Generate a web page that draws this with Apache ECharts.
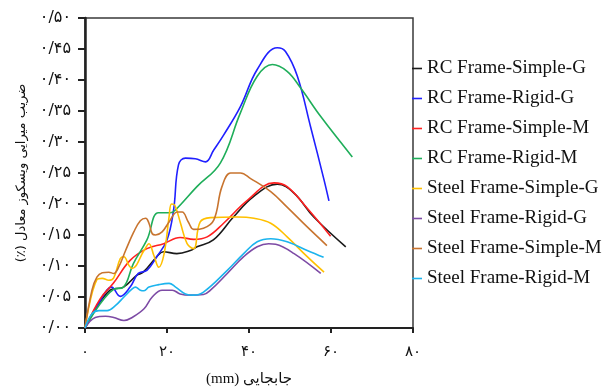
<!DOCTYPE html>
<html><head><meta charset="utf-8">
<script src="https://cdn.jsdelivr.net/npm/echarts@6/dist/echarts.min.js"></script>
<style>html,body{margin:0;padding:0;background:#fff}#c{width:612px;height:387px}</style>
</head><body><div id="c"></div>
<script>
const seriesNames = ['RC Frame-Simple-G','RC Frame-Rigid-G','RC Frame-Simple-M','RC Frame-Rigid-M','Steel Frame-Simple-G','Steel Frame-Rigid-G','Steel Frame-Simple-M','Steel Frame-Rigid-M'];
const seriesColors = ['#1a1a1a','#2020ff','#ff2020','#1fae5a','#ffc000','#7d4ba5','#c8742f','#1cb4ee'];
const xTickLabels = ['۰','۲۰','۴۰','۶۰','۸۰'];
const yTickLabels = ['۰/۰۰','۰/۰۵','۰/۱۰','۰/۱۵','۰/۲۰','۰/۲۵','۰/۳۰','۰/۳۵','۰/۴۰','۰/۴۵','۰/۵۰'];
const xAxisName = 'جابجایی (mm)';
const yAxisName = 'ضریب میرایی ویسکوز معادل (٪)';

const rcSimpleG = [[0,0],[6.1,0.061],[9.4,0.066],[12.6,0.085],[14.2,0.090],[17.5,0.115],[19.1,0.123],[22.4,0.120],[25.7,0.125],[27.3,0.131],[31.3,0.142],[36.2,0.179],[41.1,0.212],[46.9,0.232],[50.9,0.218],[55.8,0.179],[63.6,0.131]];
const rcRigidG = [[0,0],[3.7,0.044],[6.5,0.066],[8.6,0.051],[11.0,0.066],[13.0,0.088],[15.1,0.093],[17.5,0.115],[20.0,0.142],[21.6,0.190],[22.8,0.263],[24.5,0.274],[26.9,0.273],[29.4,0.268],[31.4,0.287],[33.8,0.311],[37.9,0.357],[42.0,0.417],[46.9,0.452],[48.9,0.446],[51.8,0.406],[55.0,0.325],[58.3,0.239],[59.5,0.205]];
const rcSimpleM = [[0,0],[3.7,0.047],[6.9,0.072],[11.0,0.109],[15.1,0.128],[19.2,0.136],[23.2,0.146],[26.5,0.143],[29.8,0.147],[33.8,0.169],[39.6,0.206],[46.1,0.234],[49.3,0.228],[54.2,0.193],[59.9,0.148]];
const rcRigidM = [[0,0],[3.7,0.039],[6.9,0.062],[9.4,0.066],[11.8,0.104],[15.1,0.142],[17.9,0.186],[20.8,0.186],[22.0,0.190],[27.3,0.228],[33.0,0.266],[37.9,0.347],[42.0,0.406],[45.7,0.425],[49.3,0.414],[52.6,0.387],[57.5,0.341],[65.2,0.276]];
const steelSimpleG = [[0,0],[2.9,0.078],[4.2,0.080],[5.8,0.077],[7.0,0.081],[8.6,0.112],[9.5,0.115],[10.7,0.101],[11.5,0.096],[14.4,0.125],[15.6,0.136],[16.8,0.117],[18.0,0.098],[19.3,0.120],[20.5,0.179],[21.1,0.200],[21.9,0.198],[23.3,0.169],[24.9,0.136],[26.5,0.128],[28.1,0.171],[30.6,0.178],[37.1,0.179],[41.2,0.177],[45.3,0.169],[49.3,0.147],[54.2,0.115],[58.3,0.090]];
const steelRigidG = [[0,0],[2.5,0.017],[5.0,0.019],[7.0,0.017],[9.5,0.012],[11.5,0.017],[14.4,0.031],[16.4,0.050],[18.8,0.061],[21.3,0.061],[23.2,0.055],[25.7,0.053],[28.9,0.054],[30.6,0.061],[34.7,0.088],[38.7,0.115],[42.0,0.131],[44.8,0.136],[46.5,0.135],[51.0,0.120],[57.5,0.088]];
const steelSimpleM = [[0,0],[1.7,0.061],[2.9,0.082],[4.2,0.089],[5.8,0.090],[7.0,0.088],[8.2,0.098],[9.9,0.125],[11.9,0.155],[13.5,0.173],[14.8,0.177],[15.6,0.169],[16.4,0.152],[17.2,0.150],[18.8,0.155],[20.5,0.171],[22.5,0.187],[23.7,0.187],[25.2,0.171],[26.5,0.159],[28.9,0.161],[31.4,0.174],[33.4,0.228],[35.5,0.250],[37.9,0.250],[40.4,0.241],[45.3,0.220],[49.3,0.195],[54.2,0.163],[59.0,0.133]];
const steelRigidM = [[0,0],[1.7,0.023],[3.4,0.028],[5.4,0.028],[7.4,0.036],[9.5,0.050],[11.5,0.063],[12.3,0.066],[13.5,0.061],[14.4,0.060],[15.6,0.066],[18.0,0.070],[20.5,0.072],[22.1,0.066],[24.5,0.055],[26.4,0.053],[28.9,0.058],[34.7,0.093],[38.7,0.120],[42.0,0.139],[45.3,0.144],[49.3,0.139],[54.2,0.125],[58.2,0.114]];

const seriesData = [rcSimpleG, rcRigidG, rcSimpleM, rcRigidM, steelSimpleG, steelRigidG, steelSimpleM, steelRigidM];

const rtl = s => '\u202B' + s + '\u202C';

const chart = echarts.init(document.getElementById('c'), null, {renderer:'canvas'});
chart.setOption({
  animation: false,
  backgroundColor: '#fff',
  grid: {left: 85, right: 199, top: 18, bottom: 59, show: true, borderColor: '#3a3a3a', borderWidth: 1.5,
    containLabel: false, outerBoundsMode: 'none'},
  legend: {
    orient: 'vertical', left: 412, top: 59, padding: 0,
    itemWidth: 10, itemHeight: 1.6, itemGap: 11,
    icon: 'rect',
    textStyle: {fontFamily: '"Liberation Serif", serif', fontSize: 19, color: '#111', lineHeight: 19},
    data: seriesNames
  },
  xAxis: {
    type: 'value', min: 0, max: 80, interval: 20,
    name: rtl(xAxisName), nameLocation: 'middle', nameGap: 44,
    nameTextStyle: {fontFamily: '"Liberation Serif", "DejaVu Sans", serif', fontSize: 15, color: '#111'},
    axisLine: {show: true, onZero: false, lineStyle: {color: '#222', width: 2}},
    axisTick: {show: true, inside: false, length: 5, lineStyle: {color: '#222', width: 2}},
    axisLabel: {margin: 17, fontFamily: '"DejaVu Sans", sans-serif', fontSize: 15, color: '#111',
      formatter: v => xTickLabels[Math.round(v / 20)]},
    splitLine: {show: false}
  },
  yAxis: {
    type: 'value', min: 0, max: 0.5, interval: 0.05,
    name: rtl(yAxisName), nameLocation: 'middle', nameGap: 57, nameRotate: 90,
    nameTextStyle: {fontFamily: '"DejaVu Sans", sans-serif', fontSize: 13, color: '#111'},
    axisLine: {show: true, lineStyle: {color: '#222', width: 2.5}},
    axisTick: {show: true, inside: false, length: 7, lineStyle: {color: '#222', width: 2}},
    axisLabel: {margin: 14, fontFamily: '"DejaVu Sans", sans-serif', fontSize: 16, color: '#111',
      formatter: v => yTickLabels[Math.round(v / 0.05)]},
    splitLine: {show: false}
  },
  series: seriesNames.map((n, i) => ({
    name: n, type: 'line', data: seriesData[i], smooth: 0.4, showSymbol: false, symbol: 'none',
    lineStyle: {color: seriesColors[i], width: 1.6}, itemStyle: {color: seriesColors[i]}
  }))
});
</script></body></html>
